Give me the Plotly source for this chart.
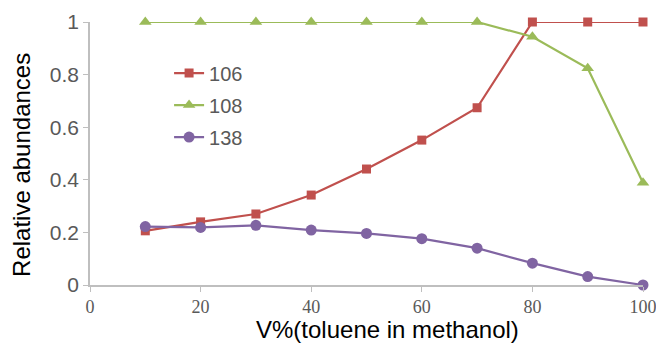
import plotly.graph_objects as go

x_vals = [10, 20, 30, 40, 50, 60, 70, 80, 90, 100]
s106 = [0.206, 0.24, 0.27, 0.342, 0.441, 0.551, 0.674, 1.0, 1.0, 1.0]
s108 = [1.0, 1.0, 1.0, 1.0, 1.0, 1.0, 1.0, 0.944, 0.824, 0.389]
s138 = [0.222, 0.219, 0.227, 0.209, 0.196, 0.176, 0.140, 0.083, 0.032, 0.0]
series_names = ["106", "108", "138"]
x_ticks = [0, 20, 40, 60, 80, 100]
y_ticks = [0, 0.2, 0.4, 0.6, 0.8, 1]
y_tick_labels = ["0", "0.2", "0.4", "0.6", "0.8", "1"]
x_title = "V%(toluene in methanol)"
y_title = "Relative abundances"

colors = ["#C0504D", "#9BBB59", "#8064A2"]
symbols = ["square", "triangle-up", "circle"]
sizes = [9, 11, 11]

fig = go.Figure()
for name, ys, c, s, sz in zip(series_names, [s106, s108, s138], colors, symbols, sizes):
    fig.add_trace(go.Scatter(
        x=x_vals, y=ys, name=name, mode="lines+markers",
        line=dict(color=c, width=2.2),
        marker=dict(symbol=s, size=sz, color=c),
        cliponaxis=False, legendgroup=name,
    ))

fig.update_layout(
    width=656, height=346,
    margin=dict(l=90, r=13, t=22, b=61),
    paper_bgcolor="white", plot_bgcolor="white",
    font=dict(family="Arial, Liberation Sans, sans-serif", color="#595959"),
    showlegend=True,
    legend=dict(x=0.143, y=0.88, xanchor="left", yanchor="top",
                font=dict(size=20, color="#595959"),
                bgcolor="rgba(0,0,0,0)", tracegroupgap=3,
                traceorder="grouped", itemwidth=30),
    xaxis=dict(range=[0, 100], tickvals=x_ticks, showgrid=False, zeroline=False,
               automargin=False, ticklabeloverflow="allow",
               showline=True, linecolor="#BFBFBF", linewidth=1.5,
               ticks="outside", ticklen=5, tickcolor="#BFBFBF",
               tickfont=dict(family="Liberation Serif, serif", size=18, color="#595959")),
    yaxis=dict(range=[0, 1], tickvals=y_ticks, ticktext=y_tick_labels,
               showgrid=False, zeroline=False, automargin=False,
               ticklabeloverflow="allow",
               showline=True, linecolor="#BFBFBF", linewidth=1.5,
               ticks="outside", ticklen=5, tickcolor="#BFBFBF",
               tickfont=dict(size=21, color="#595959")),
    annotations=[
        dict(text=x_title, xref="paper", yref="paper", x=0.538, y=-0.171,
             xanchor="center", yanchor="middle", showarrow=False,
             font=dict(size=24, color="#000000")),
        dict(text=y_title, xref="paper", yref="paper", x=-0.125, y=0.456,
             xanchor="center", yanchor="middle", showarrow=False, textangle=-90,
             font=dict(size=24, color="#000000")),
    ],
)

fig.write_html("out.html", config={"displayModeBar": False},
               post_script="document.body.style.margin='0';document.body.style.overflow='hidden';")
